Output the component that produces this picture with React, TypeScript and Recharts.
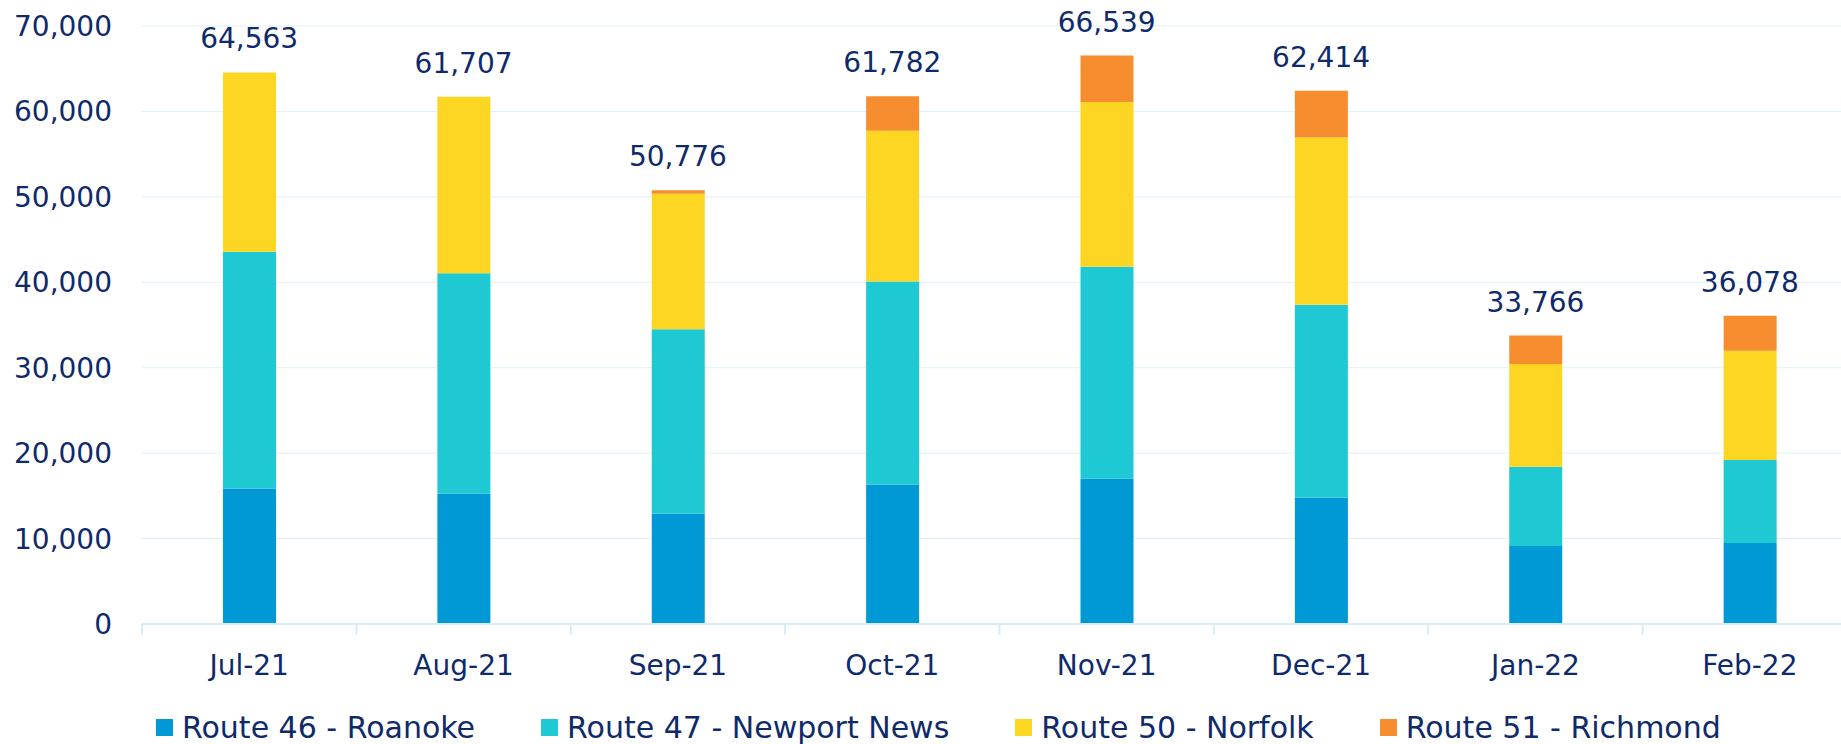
import { ComposedChart, Bar, Line, XAxis, YAxis, CartesianGrid, Legend, LabelList } from "recharts";

const months = ["Jul-21", "Aug-21", "Sep-21", "Oct-21", "Nov-21", "Dec-21", "Jan-22", "Feb-22"];
const roanoke = [15850, 15240, 12910, 16340, 17000, 14800, 9130, 9480];
const newportNews = [27730, 25820, 21586, 23750, 24810, 22580, 9283, 9720];
const norfolk = [20983, 20647, 15873, 17660, 19290, 19580, 12021, 12790];
const richmond = [0, 0, 407, 4032, 5439, 5454, 3332, 4088];
const totals = [64563, 61707, 50776, 61782, 66539, 62414, 33766, 36078];
const yTicks = [0, 10000, 20000, 30000, 40000, 50000, 60000, 70000];

const series = [
  { key: "roanoke", name: "Route 46 - Roanoke", color: "#0099D6" },
  { key: "newportNews", name: "Route 47 - Newport News", color: "#1FC9D3" },
  { key: "norfolk", name: "Route 50 - Norfolk", color: "#FCD623" },
  { key: "richmond", name: "Route 51 - Richmond", color: "#F68D2E" },
];

const data = months.map((month, i) => ({
  month,
  roanoke: roanoke[i],
  newportNews: newportNews[i],
  norfolk: norfolk[i],
  richmond: richmond[i],
  total: totals[i],
}));

const FONT = "DejaVu Sans";
const NAVY = "#0F2A6B";
const GRID = "#DDF1FB";
const AXIS = "#D6EDF9";

const CHART_W = 1860;
const CHART_H = 744;
const MARGIN = { top: 26, right: 3, left: 0, bottom: 80 };
const Y_AXIS_W = 142;
const BAND = (CHART_W - MARGIN.left - MARGIN.right - Y_AXIS_W) / months.length;

const fmt = (v: number) => Number(v).toLocaleString("en-US");
const seriesNames = series.map((s) => s.name);

function MonthTick({ x, y, payload }: any) {
  const edge = x - BAND / 2;
  return (
    <g>
      <line x1={edge} x2={edge} y1={y} y2={y + 11} stroke={AXIS} strokeWidth={2} />
      <text
        x={x}
        y={y + 41}
        textAnchor="middle"
        dominantBaseline="central"
        fill={NAVY}
        fontSize={28}
        fontFamily={FONT}
      >
        {payload.value}
      </text>
    </g>
  );
}

function RouteLegend({ payload }: any) {
  const items = (payload || []).filter((p: any) => seriesNames.includes(p.value));
  return (
    <div
      style={{
        display: "flex",
        alignItems: "center",
        gap: 66,
        paddingLeft: 156,
        height: 40,
        fontFamily: FONT,
        fontSize: 30,
        color: NAVY,
        whiteSpace: "nowrap",
      }}
    >
      {items.map((p: any) => (
        <div key={p.value} style={{ display: "flex", alignItems: "center", gap: 9 }}>
          <span style={{ width: 17, height: 17, background: p.color, display: "inline-block" }} />
          <span>{p.value}</span>
        </div>
      ))}
    </div>
  );
}

export default function App() {
  return (
    <div
      style={{
        position: "absolute",
        left: 0,
        top: 0,
        width: 1841,
        height: 744,
        overflow: "hidden",
        background: "#fff",
      }}
    >
      <ComposedChart width={CHART_W} height={CHART_H} data={data} margin={MARGIN} barSize={53}>
        <CartesianGrid vertical={false} stroke={GRID} strokeWidth={1} />
        <XAxis
          dataKey="month"
          interval={0}
          tickLine={false}
          tickSize={0}
          tickMargin={0}
          height={40}
          axisLine={{ stroke: AXIS, strokeWidth: 2 }}
          tick={<MonthTick />}
        />
        <YAxis
          width={Y_AXIS_W}
          domain={[0, 70000]}
          ticks={yTicks}
          axisLine={false}
          tickLine={false}
          tickSize={0}
          tickMargin={30}
          tickFormatter={fmt}
          tick={{ fill: NAVY, fontSize: 28, fontFamily: FONT }}
        />
        <Legend
          layout="horizontal"
          verticalAlign="middle"
          align="center"
          wrapperStyle={{ top: 707, left: 0, width: 1841, height: 40 }}
          content={(props: any) => <RouteLegend payload={props.payload} />}
        />
        {series.map((s) => (
          <Bar
            key={s.key}
            dataKey={s.key}
            name={s.name}
            stackId="routes"
            fill={s.color}
            isAnimationActive={false}
          />
        ))}
        {/* invisible line carrying the total labels above each stack */}
        <Line
          dataKey="total"
          name="Total"
          stroke="none"
          dot={false}
          activeDot={false}
          legendType="none"
          isAnimationActive={false}
        >
          <LabelList
            dataKey="total"
            position="top"
            offset={24}
            fill={NAVY}
            fontSize={28}
            fontFamily={FONT}
            formatter={(v: any) => fmt(v)}
          />
        </Line>
      </ComposedChart>
    </div>
  );
}
